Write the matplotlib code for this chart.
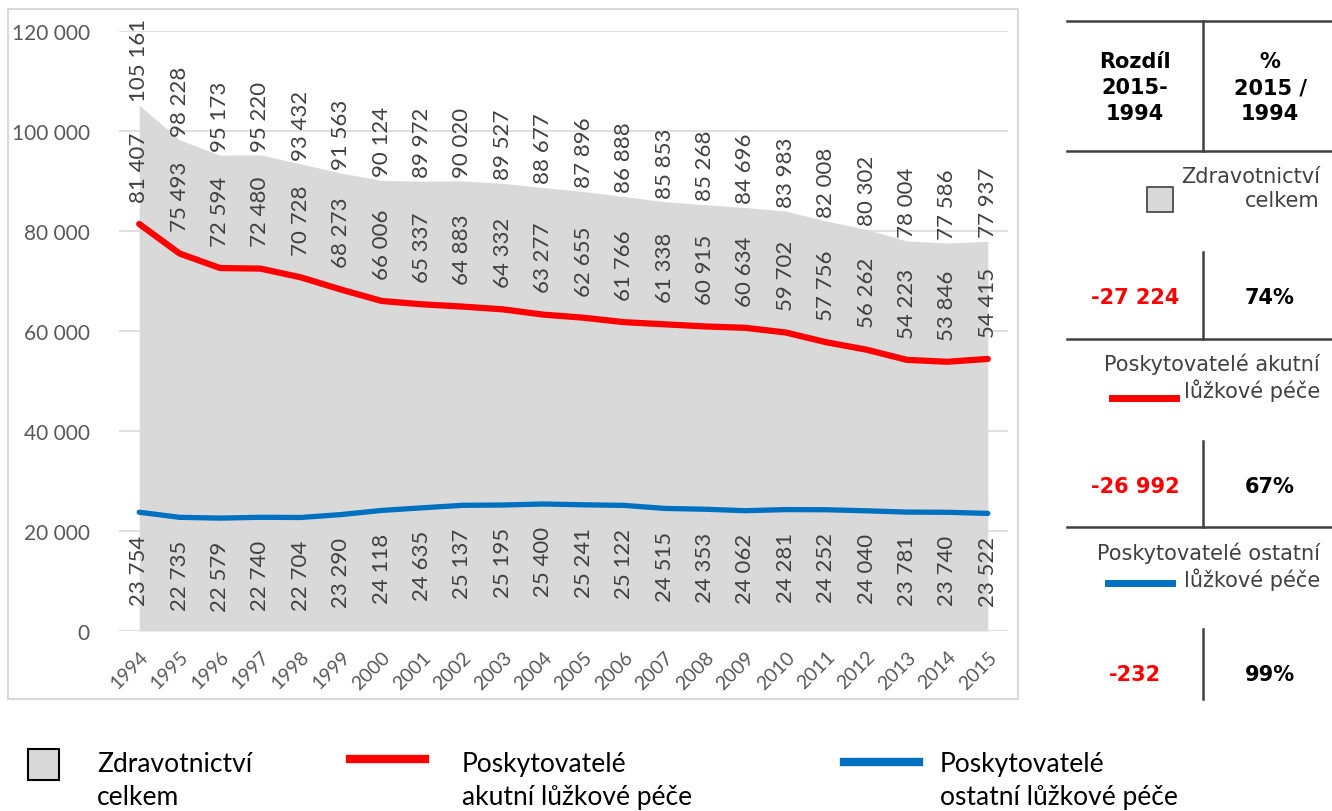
import matplotlib
matplotlib.use('Agg')
import matplotlib.pyplot as plt
from matplotlib.lines import Line2D
from matplotlib.patches import Rectangle
import numpy as np

years = list(range(1994, 2016))
total = [105161, 98228, 95173, 95220, 93432, 91563, 90124, 89972, 90020, 89527, 88677,
         87896, 86888, 85853, 85268, 84696, 83983, 82008, 80302, 78004, 77586, 77937]
acute = [81407, 75493, 72594, 72480, 70728, 68273, 66006, 65337, 64883, 64332, 63277,
         62655, 61766, 61338, 60915, 60634, 59702, 57756, 56262, 54223, 53846, 54415]
other = [23754, 22735, 22579, 22740, 22704, 23290, 24118, 24635, 25137, 25195, 25400,
         25241, 25122, 24515, 24353, 24062, 24281, 24252, 24040, 23781, 23740, 23522]
series_names = ['Zdravotnictví\ncelkem', 'Poskytovatelé akutní\nlůžkové péče',
                'Poskytovatelé ostatní\nlůžkové péče']
legend_names = ['Zdravotnictví\ncelkem', 'Poskytovatelé\nakutní lůžkové péče',
                'Poskytovatelé\nostatní lůžkové péče']

GREY = '#D9D9D9'
RED = '#FF0000'
BLUE = '#0070C0'
LABEL = '#404040'

W, H = 1332, 812


def fmt(v):
    return '{:,}'.format(v).replace(',', ' ')


def px(x, y):
    return x / W, 1 - y / H


fig = plt.figure(figsize=(W / 100, H / 100), dpi=100)
ax = fig.add_axes([119 / W, 1 - 632 / H, 889 / W, 600 / H])

x = np.arange(len(years))
ax.fill_between(x, total, color=GREY, lw=0, zorder=2)
ax.plot(x, acute, color=RED, lw=4.5, solid_capstyle='round', zorder=3)
ax.plot(x, other, color=BLUE, lw=3.8, solid_capstyle='round', zorder=3)

lab = dict(rotation=90, ha='center', fontsize=16, color=LABEL, family='Lato', zorder=5)
for i in x:
    ax.annotate(fmt(total[i]), (i, total[i]), xytext=(0, 3), textcoords='offset points',
                va='bottom', **lab)
    ax.annotate(fmt(acute[i]), (i, acute[i]), xytext=(0, 16), textcoords='offset points',
                va='bottom', **lab)
    ax.annotate(fmt(other[i]), (i, other[i]), xytext=(0, -16), textcoords='offset points',
                va='top', **lab)

ax.set_xlim(-0.5, len(years) - 0.5)
ax.set_ylim(0, 120000)
ax.set_yticks(range(0, 120001, 20000))
ax.set_yticklabels([fmt(v) for v in range(0, 120001, 20000)], family='Lato', fontsize=15,
                   color='#595959')
ax.set_xticks(x)
ax.set_xticklabels([str(y) for y in years], rotation=45, ha='right', va='top',
                   rotation_mode='anchor', family='Lato', fontsize=14, color='#595959')
ax.tick_params(axis='y', length=0, pad=21)
ax.tick_params(axis='x', length=0, pad=12)
ax.grid(axis='y', color=GREY, lw=1.2, zorder=1)
ax.set_axisbelow(True)
for s in ax.spines.values():
    s.set_visible(False)

# chart border
fig.add_artist(Rectangle(px(8, 700), 1010 / W, 690 / H, transform=fig.transFigure,
                         fill=False, edgecolor=GREY, lw=1.5))

# right side table
tline = dict(color='#404040', lw=1.8, transform=fig.transFigure)


def hline(y, x0=1067, x1=1332):
    fig.add_artist(Line2D([x0 / W, x1 / W], [1 - y / H, 1 - y / H], **tline))


def vline(y0, y1, xx=1203):
    fig.add_artist(Line2D([xx / W, xx / W], [1 - y0 / H, 1 - y1 / H], **tline))


tbl = dict(family='DejaVu Sans', fontsize=15, fontweight='bold', ha='center', va='center')
hline(22)
vline(22, 152)
hline(152)
fig.text(*px(1135, 88), 'Rozdíl\n2015-\n1994', linespacing=1.35, **tbl)
fig.text(*px(1270, 88), '%\n2015 /\n1994', linespacing=1.35, **tbl)

series = [total, acute, other]
row_y = [298, 487, 675]
key_y = [189, 378, 567]
vl = [(253, 340), (442, 528), (630, 700)]
for k, s in enumerate(series):
    diff = s[-1] - s[0]
    pct = round(100 * s[-1] / s[0])
    fig.text(*px(1320, key_y[k]), series_names[k], ha='right', va='center', family='DejaVu Sans',
             fontsize=15, color=LABEL, linespacing=1.25)
    fig.text(*px(1135, row_y[k]), fmt(diff), color=RED, **tbl)
    fig.text(*px(1270, row_y[k]), '{}%'.format(pct), color='black', **tbl)
    vline(*vl[k])
    if k < 2:
        hline(vl[k][1])

fig.add_artist(Rectangle(px(1147, 213), 26 / W, 25 / H, transform=fig.transFigure,
                         facecolor=GREY, edgecolor='#404040', lw=1.2))
fig.add_artist(Line2D([1112 / W, 1176 / W], [1 - 399 / H] * 2, color=RED, lw=5,
                      transform=fig.transFigure))
fig.add_artist(Line2D([1108 / W, 1172 / W], [1 - 584 / H] * 2, color=BLUE, lw=5,
                      transform=fig.transFigure))

# bottom legend
fig.add_artist(Rectangle(px(28, 781), 31 / W, 31 / H, transform=fig.transFigure,
                         facecolor=GREY, edgecolor='black', lw=1.5))
fig.add_artist(Line2D([350 / W, 425 / W], [1 - 760 / H] * 2, color=RED, lw=6,
                      transform=fig.transFigure))
fig.add_artist(Line2D([844 / W, 919 / W], [1 - 763 / H] * 2, color=BLUE, lw=6,
                      transform=fig.transFigure))
for xx, name in zip([97, 462, 940], legend_names):
    fig.text(*px(xx, 781), name, ha='left', va='center', family='Lato', fontsize=19,
             color='black', linespacing=1.4)

fig.savefig('out.png', dpi=100)
plt.close(fig)
